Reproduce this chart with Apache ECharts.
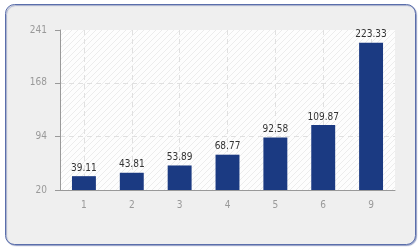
<!DOCTYPE html>
<html><head><meta charset="utf-8">
<script src="https://cdn.jsdelivr.net/npm/echarts@6/dist/echarts.min.js"></script>
<style>html,body{margin:0;padding:0;background:#fff}#c{width:420px;height:250px}</style>
</head><body><div id="c"></div>
<script>
const categories = ['1','2','3','4','5','6','9'];
const values = [39.11, 43.81, 53.89, 68.77, 92.58, 109.87, 223.33];
const yMin = 20, yMax = 241, yStep = 74;

const pc = document.createElement('canvas');
pc.width = 6; pc.height = 6;
const g = pc.getContext('2d');
g.fillStyle = '#fdfdfd'; g.fillRect(0,0,6,6);
g.strokeStyle = '#ececec'; g.lineWidth = 1;
g.beginPath(); g.moveTo(0,6); g.lineTo(6,0); g.moveTo(-3,3); g.lineTo(3,-3); g.moveTo(3,9); g.lineTo(9,3); g.stroke();

// helper axis for vertical grid lines through category centres
const halfSteps = [];
for (let i = 0; i <= categories.length * 2; i++) halfSteps.push(String(i));

const chart = echarts.init(document.getElementById('c'), null, {renderer:'canvas'});
const font = 'DejaVu Sans Condensed';
chart.setOption({
  animation:false,
  backgroundColor:'#fff',
  graphic:[{type:'rect', z:-10, silent:true,
    shape:{x:5.5,y:4.5,width:410,height:240,r:9},
    style:{fill:'#efefef', stroke:'#5a6eab', lineWidth:1, shadowColor:'rgba(60,80,150,0.45)', shadowBlur:1, shadowOffsetX:1, shadowOffsetY:1}}],
  grid:{left:60, right:25, top:30, bottom:60, show:true, backgroundColor:{image:pc, repeat:'repeat'}, borderWidth:0},
  xAxis:[{type:'category', data:categories,
    axisLine:{lineStyle:{color:'#999'}},
    axisTick:{alignWithLabel:true, length:5, lineStyle:{color:'#999'}},
    axisLabel:{color:'#999', fontFamily:font, fontSize:10, margin:10},
    splitLine:{show:false}},
   {type:'category', data:halfSteps, boundaryGap:false, position:'bottom',
    axisLine:{show:false}, axisTick:{show:false}, axisLabel:{show:false},
    splitLine:{show:true, interval:(i)=>i%2===1, lineStyle:{color:'#e0e0e0', type:[5,4]}}}],
  yAxis:{type:'value', min:yMin, max:yMax, interval:yStep,
    axisLine:{show:true, lineStyle:{color:'#999'}},
    axisTick:{show:true, length:5, lineStyle:{color:'#999'}},
    axisLabel:{color:'#999', fontFamily:font, fontSize:10, margin:13, showMaxLabel:true},
    splitLine:{show:true, showMaxLine:false, showMinLine:false, lineStyle:{color:'#e0e0e0', type:[5,4]}}},
  series:[{type:'bar', xAxisIndex:0, data:values, barWidth:'50%',
    itemStyle:{color:'#1b3a82'},
    label:{show:true, position:'top', distance:3, color:'#333', fontFamily:font, fontSize:10,
      formatter:p=>p.value.toFixed(2)}}]
});
</script></body></html>
